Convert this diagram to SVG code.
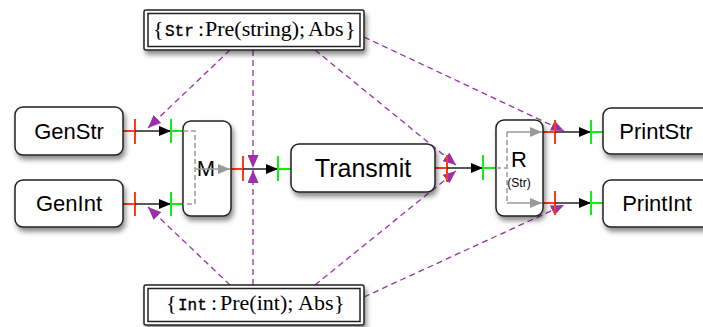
<svg xmlns="http://www.w3.org/2000/svg" width="703" height="327" viewBox="0 0 703 327">
<defs>
<style>
.box{fill:#fff;stroke:#222;stroke-width:1.5;filter:url(#sh)}
.lbl{font-family:"Liberation Sans",Arial,sans-serif;fill:#000;text-anchor:middle}
.red{stroke:#ff3b12;stroke-width:2;fill:none}
.grn{stroke:#11ee11;stroke-width:2;fill:none}
.blk{stroke:#222;stroke-width:1.5;fill:none;marker-end:url(#ab)}
.gry{stroke:#999;stroke-width:1.5;fill:none;stroke-dasharray:5 3}
.gra{stroke:#999;stroke-width:1.5;fill:none;marker-end:url(#ag)}
.pur{stroke:#9b30a8;stroke-width:1.3;fill:none;stroke-dasharray:6 4;marker-end:url(#ap)}
.math{font-family:"Liberation Serif","Times New Roman",serif;font-size:22px;fill:#000}
.tt{font-family:"Liberation Mono","Courier New",monospace;font-size:16px;stroke:#000;stroke-width:0.35}
</style>
<filter id="sh" x="-20%" y="-20%" width="150%" height="160%">
<feDropShadow dx="2" dy="4" stdDeviation="2.5" flood-color="#000" flood-opacity="0.45"/>
</filter>
<marker id="ab" markerUnits="userSpaceOnUse" markerWidth="12" markerHeight="10" refX="12" refY="5" orient="auto"><path d="M0,0 L12,5 L0,10 z" fill="#000"/></marker>
<marker id="ag" markerUnits="userSpaceOnUse" markerWidth="12" markerHeight="10" refX="12" refY="5" orient="auto"><path d="M0,0 L12,5 L0,10 z" fill="#999"/></marker>
<marker id="ap" markerUnits="userSpaceOnUse" markerWidth="13" markerHeight="11" refX="13" refY="5.5" orient="auto"><path d="M0,0 L13,5.5 L0,11 z" fill="#9b30a8"/></marker>
</defs>
<g id="connectors">
<line class="pur" x1="230" y1="50" x2="148" y2="128"/>
<line class="pur" x1="253" y1="50" x2="253" y2="168"/>
<line class="pur" x1="315" y1="50" x2="456" y2="165"/>
<line class="pur" x1="364" y1="37" x2="564" y2="131"/>
<line class="pur" x1="230" y1="285" x2="148" y2="207"/>
<line class="pur" x1="253" y1="285" x2="253" y2="170"/>
<line class="pur" x1="315" y1="285" x2="456" y2="171"/>
<line class="pur" x1="364" y1="297" x2="564" y2="205"/>
<path class="red" d="M123,131H135M135,119V144"/>
<line class="blk" x1="135" y1="131" x2="171" y2="131"/>
<path class="grn" d="M171,119V143M171,131H183"/>
<path class="red" d="M123,204H135M135,192V216"/>
<line class="blk" x1="135" y1="204" x2="171" y2="204"/>
<path class="grn" d="M171,192V216M171,204H183"/>
<path class="red" d="M231,169H243M243,156V181"/>
<line class="blk" x1="243" y1="169" x2="278" y2="169"/>
<path class="grn" d="M278,156V181M278,169H291"/>
<path class="red" d="M435,168H447M447,155V182"/>
<line class="blk" x1="458" y1="168" x2="483" y2="168"/>
<line x1="447" y1="168" x2="458" y2="168" stroke="#222" stroke-width="1.5"/>
<path class="grn" d="M483,155V180M483,168H496"/>
<path class="red" d="M543,132H555M555,120V144"/>
<line class="blk" x1="555" y1="132" x2="591" y2="132"/>
<path class="grn" d="M591,120V144M591,132H603"/>
<path class="red" d="M543,203H555M555,191V215"/>
<line class="blk" x1="555" y1="203" x2="591" y2="203"/>
<path class="grn" d="M591,191V215M591,203H603"/>
</g>
<g id="GenStr"><rect class="box" x="15" y="107" width="108" height="48" rx="8"/><text class="lbl" x="69" y="139" font-size="22">GenStr</text></g>
<g id="GenInt"><rect class="box" x="15" y="180" width="108" height="47" rx="8"/><text class="lbl" x="69" y="211" font-size="22">GenInt</text></g>
<g id="M"><rect class="box" x="183" y="121" width="48" height="95" rx="8"/>
<path class="gry" d="M183,131H195V204H183"/>
<text class="lbl" x="206" y="176" font-size="22">M</text>
<line class="gra" x1="196" y1="169" x2="230" y2="169"/></g>
<g id="Transmit"><rect class="box" x="291" y="144" width="144" height="48" rx="8"/><text class="lbl" x="363" y="177" font-size="25">Transmit</text></g>
<g id="R"><rect class="box" x="496" y="120" width="47" height="96" rx="8"/>
<path class="gry" d="M496,168H507M507,132V203"/>
<line class="gra" x1="507" y1="132" x2="542" y2="132"/>
<line class="gra" x1="507" y1="203" x2="542" y2="203"/>
<text class="lbl" x="519" y="167" font-size="22">R</text>
<text class="lbl" x="519" y="187" font-size="12">(Str)</text></g>
<g id="PrintStr"><rect class="box" x="603" y="108" width="108" height="46" rx="8"/><text class="lbl" x="656" y="139" font-size="22">PrintStr</text></g>
<g id="PrintInt"><rect class="box" x="603" y="180" width="108" height="47" rx="8"/><text class="lbl" x="657" y="211" font-size="22">PrintInt</text></g>
<g id="StrRow"><rect class="box" x="144" y="10" width="220" height="40" rx="2"/><rect x="148" y="13.5" width="212" height="33" fill="none" stroke="#222" stroke-width="1.5"/>
<text class="math" y="36"><tspan x="153">{</tspan><tspan x="165" class="tt">Str</tspan><tspan x="198">:</tspan><tspan x="205">Pre(string);</tspan><tspan x="308">Abs</tspan><tspan x="345">}</tspan></text></g>
<g id="IntRow"><rect class="box" x="144" y="285" width="220" height="40" rx="2"/><rect x="148" y="288.5" width="212" height="33" fill="none" stroke="#222" stroke-width="1.5"/>
<text class="math" y="310"><tspan x="166">{</tspan><tspan x="178" class="tt">Int</tspan><tspan x="211">:</tspan><tspan x="220">Pre(int);</tspan><tspan x="298">Abs</tspan><tspan x="334">}</tspan></text></g>
</svg>
